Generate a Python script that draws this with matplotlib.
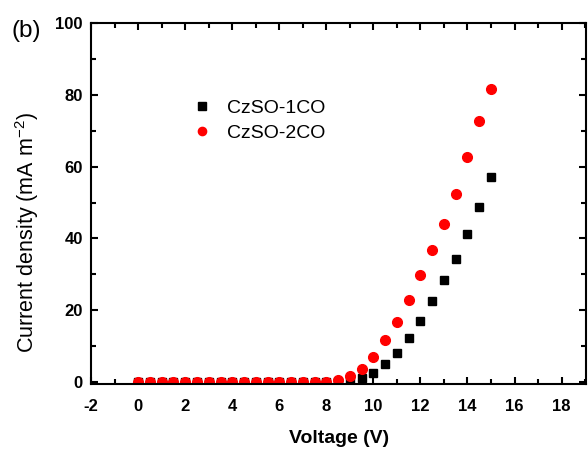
import matplotlib
matplotlib.use("Agg")
import matplotlib.pyplot as plt
from matplotlib.ticker import MultipleLocator, FuncFormatter

plt.rcParams['font.family'] = ['Liberation Sans', 'DejaVu Sans']
plt.rcParams['axes.unicode_minus'] = False
plt.rcParams['mathtext.fontset'] = 'custom'
plt.rcParams['mathtext.rm'] = 'Liberation Sans'
plt.rcParams['mathtext.it'] = 'Liberation Sans:italic'
plt.rcParams['mathtext.bf'] = 'Liberation Sans:bold'

voltage = [0, 0.5, 1, 1.5, 2, 2.5, 3, 3.5, 4, 4.5, 5, 5.5, 6, 6.5, 7, 7.5,
           8, 8.5, 9, 9.5, 10, 10.5, 11, 11.5, 12, 12.5, 13, 13.5, 14, 14.5, 15]
cz1co = [0, 0, 0, 0, 0, 0, 0, 0, 0, 0, 0, 0, 0, 0, 0, 0,
         0.05, 0.1, 0.4, 1.1, 2.6, 5.1, 8.0, 12.4, 17.1, 22.5, 28.5, 34.3, 41.1, 48.7, 57.0]
cz2co = [0, 0, 0, 0, 0, 0, 0, 0, 0, 0, 0, 0, 0, 0, 0, 0,
         0.1, 0.6, 1.6, 3.5, 6.9, 11.7, 16.8, 22.8, 29.8, 36.7, 44.1, 52.5, 62.6, 72.6, 81.7]

fig = plt.figure(figsize=(5.88, 4.5), dpi=100)
ax = fig.add_axes([0.155, 0.147, 0.842, 0.802])

ax.plot(voltage, cz1co, 's', color='black', markersize=6, label='CzSO-1CO', linestyle='none')
ax.plot(voltage, cz2co, 'o', color='#ff0000', markersize=7, label='CzSO-2CO', linestyle='none')

ax.set_xlim(-2, 19.05)
ax.set_ylim(-0.5, 100)
ax.xaxis.set_major_locator(MultipleLocator(2))
ax.xaxis.set_minor_locator(MultipleLocator(1))
ax.yaxis.set_major_locator(MultipleLocator(20))
ax.yaxis.set_minor_locator(MultipleLocator(10))
ax.xaxis.set_major_formatter(FuncFormatter(lambda v, p: f"{v:g}"))
ax.yaxis.set_major_formatter(FuncFormatter(lambda v, p: f"{v:g}"))
ax.tick_params(which='both', direction='in', top=True, right=True, width=1.5)
ax.tick_params(which='major', length=5, labelsize=12)
ax.tick_params(which='minor', length=3.5)
ax.tick_params(axis='x', which='major', pad=11)
ax.tick_params(axis='y', which='major', pad=6)
for lab in ax.get_xticklabels() + ax.get_yticklabels():
    lab.set_fontweight('bold')
for s in ax.spines.values():
    s.set_linewidth(1.5)

ax.set_xlabel('Voltage (V)', fontsize=14, fontweight='bold')
ax.xaxis.set_label_coords(0.5, -0.128)
ax.set_ylabel('Current density (mA m$^{\\mathrm{-2}}$)', fontsize=15.5)
ax.yaxis.set_label_coords(-0.101, 0.42)

ax.legend(loc='center left', bbox_to_anchor=(0.16, 0.73), frameon=False, fontsize=14,
          handletextpad=0.5, labelspacing=0.4, markerscale=0.85, handlelength=1.5)

fig.text(0.02, 0.93, '(b)', fontsize=17.5, va='center')

fig.savefig('out.png', dpi=100)
